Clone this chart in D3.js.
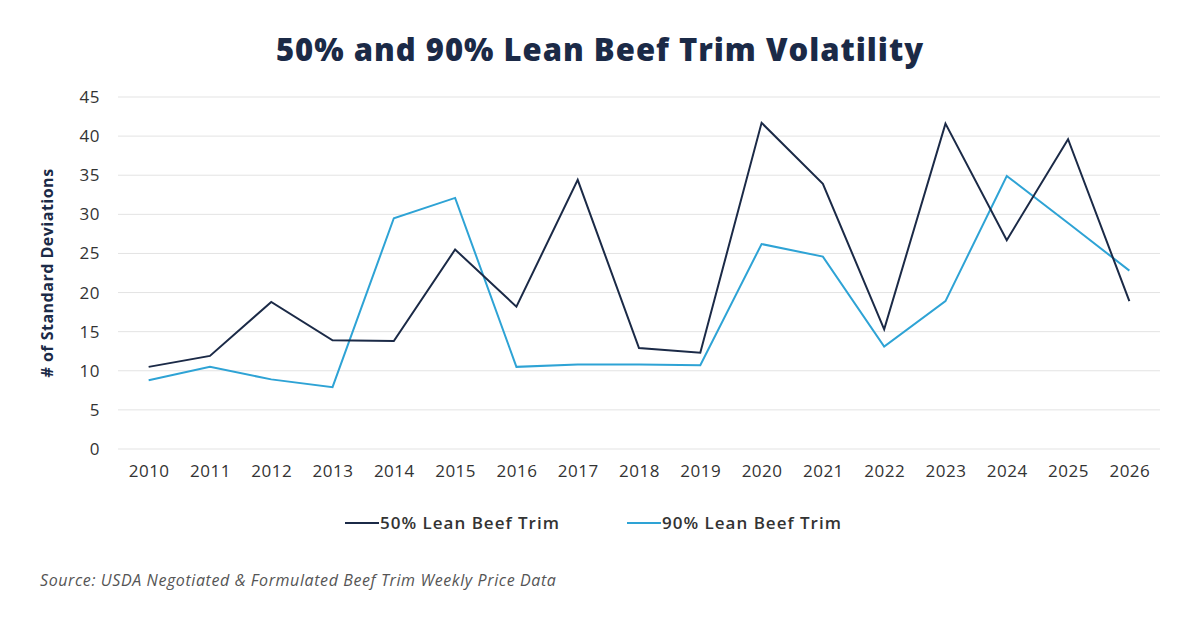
<!DOCTYPE html>
<html>
<head>
<script src="https://cdnjs.cloudflare.com/ajax/libs/d3/7.8.5/d3.min.js"></script>
<style>body{margin:0;background:#fff;}</style>
</head>
<body>
<div id="chart"></div>
<script>
var years = ["2010","2011","2012","2013","2014","2015","2016","2017","2018","2019","2020","2021","2022","2023","2024","2025","2026"];
var lean50 = [10.5,11.9,18.8,13.9,13.8,25.5,18.2,34.4,12.9,12.3,41.7,33.9,15.3,41.6,26.7,39.6,18.9];
var lean90 = [8.8,10.5,8.9,7.9,29.5,32.1,10.5,10.8,10.8,10.7,26.2,24.6,13.1,18.9,34.9,28.9,22.8];
var yTicks = [0,5,10,15,20,25,30,35,40,45];

var width = 1200, height = 627;
var navy = "#1b2a47", blue = "#2ea3d5";
var font = "'Open Sans', sans-serif";

var svg = d3.select("#chart").append("svg").attr("width", width).attr("height", height);

svg.append("text").attr("x", 600).attr("y", 61).attr("text-anchor", "middle")
    .attr("font-family", font).attr("font-weight", "800").attr("font-size", 31)
    .attr("letter-spacing", 1).attr("fill", navy).text("50% and 90% Lean Beef Trim Volatility");

var x = d3.scalePoint().domain(years).range([118, 1160]).padding(0.5);
var y = d3.scaleLinear().domain([0, 45]).range([449, 97]);

// grid
svg.selectAll("line.grid").data(yTicks).enter().append("line")
    .attr("x1", 118).attr("x2", 1160)
    .attr("y1", function (d) { return y(d); }).attr("y2", function (d) { return y(d); })
    .attr("stroke", "#e3e3e3").attr("stroke-width", 1);

var yAxis = svg.append("g").attr("transform", "translate(103,0)")
    .call(d3.axisLeft(y).tickValues(yTicks).tickSize(0));
yAxis.select(".domain").remove();
yAxis.selectAll("text").attr("font-family", font).attr("font-size", 17).attr("letter-spacing", 0.5).attr("fill", "#333");

var xAxis = svg.append("g").attr("transform", "translate(0,462)")
    .call(d3.axisBottom(x).tickSize(0));
xAxis.select(".domain").remove();
xAxis.selectAll("text").attr("font-family", font).attr("font-size", 17).attr("letter-spacing", 0.5).attr("fill", "#333");

svg.append("text").attr("transform", "translate(53,273) rotate(-90)")
    .attr("text-anchor", "middle").attr("font-family", font).attr("font-weight", "bold")
    .attr("font-size", 16).attr("letter-spacing", 0.5).attr("fill", navy).text("# of Standard Deviations");

var line = d3.line().x(function (d, i) { return x(years[i]); }).y(function (d) { return y(d); });

svg.append("path").datum(lean90).attr("d", line).attr("fill", "none")
    .attr("stroke", blue).attr("stroke-width", 2);
svg.append("path").datum(lean50).attr("d", line).attr("fill", "none")
    .attr("stroke", navy).attr("stroke-width", 2);

// legend
var legend = [{name: "50% Lean Beef Trim", color: navy, x: 345}, {name: "90% Lean Beef Trim", color: blue, x: 627}];
legend.forEach(function (l) {
    svg.append("line").attr("x1", l.x).attr("x2", l.x + 34).attr("y1", 523).attr("y2", 523)
        .attr("stroke", l.color).attr("stroke-width", 2);
    svg.append("text").attr("x", l.x + 35).attr("y", 529).attr("font-family", font)
        .attr("font-size", 17).attr("font-weight", "600").attr("letter-spacing", 1)
        .attr("fill", "#333").text(l.name);
});

svg.append("text").attr("x", 40).attr("y", 586).attr("font-family", font)
    .attr("font-style", "italic").attr("font-size", 16).attr("letter-spacing", 0.6).attr("fill", "#555")
    .text("Source: USDA Negotiated & Formulated Beef Trim Weekly Price Data");
</script>
</body>
</html>
